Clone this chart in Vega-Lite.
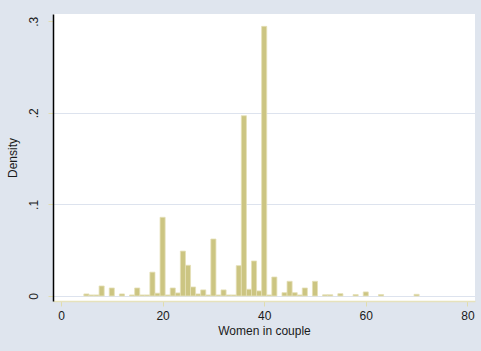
{
  "$schema": "https://vega.github.io/schema/vega-lite/v6.json",
  "width": 422,
  "height": 287,
  "autosize": "none",
  "padding": {"left": 53, "top": 14, "right": 6, "bottom": 50},
  "background": "#dfe5ee",
  "config": {
    "view": {"fill": "#ffffff", "stroke": null},
    "font": "Liberation Sans",
    "axis": {
      "labelFont": "Liberation Sans",
      "titleFont": "Liberation Sans",
      "labelFontSize": 12,
      "titleFontSize": 12,
      "titleFontWeight": "normal",
      "labelColor": "#1a1a1a",
      "titleColor": "#1a1a1a"
    }
  },
  "data": {
    "values": [
      {"lo": 4.5, "hi": 5.5, "density": 0.0022},
      {"lo": 5.5, "hi": 6.5, "density": 0.0011},
      {"lo": 6.5, "hi": 7.5, "density": 0.0011},
      {"lo": 7.5, "hi": 8.5, "density": 0.0109},
      {"lo": 9.5, "hi": 10.5, "density": 0.0087},
      {"lo": 11.5, "hi": 12.5, "density": 0.0022},
      {"lo": 13.5, "hi": 14.5, "density": 0.0011},
      {"lo": 14.5, "hi": 15.5, "density": 0.0087},
      {"lo": 15.5, "hi": 16.5, "density": 0.0011},
      {"lo": 16.5, "hi": 17.5, "density": 0.0011},
      {"lo": 17.5, "hi": 18.5, "density": 0.026},
      {"lo": 18.5, "hi": 19.5, "density": 0.003},
      {"lo": 19.5, "hi": 20.5, "density": 0.0859},
      {"lo": 20.5, "hi": 21.5, "density": 0.0011},
      {"lo": 21.5, "hi": 22.5, "density": 0.0087},
      {"lo": 22.5, "hi": 23.5, "density": 0.0033},
      {"lo": 23.5, "hi": 24.5, "density": 0.049},
      {"lo": 24.5, "hi": 25.5, "density": 0.0335},
      {"lo": 25.5, "hi": 26.5, "density": 0.0098},
      {"lo": 26.5, "hi": 27.5, "density": 0.0022},
      {"lo": 27.5, "hi": 28.5, "density": 0.0066},
      {"lo": 28.5, "hi": 29.5, "density": 0.0011},
      {"lo": 29.5, "hi": 30.5, "density": 0.0622},
      {"lo": 30.5, "hi": 31.5, "density": 0.0011},
      {"lo": 31.5, "hi": 32.5, "density": 0.0066},
      {"lo": 32.5, "hi": 33.5, "density": 0.0011},
      {"lo": 33.5, "hi": 34.5, "density": 0.0011},
      {"lo": 34.5, "hi": 35.5, "density": 0.0331},
      {"lo": 35.5, "hi": 36.5, "density": 0.1968},
      {"lo": 36.5, "hi": 37.5, "density": 0.0073},
      {"lo": 37.5, "hi": 38.5, "density": 0.0382},
      {"lo": 38.5, "hi": 39.5, "density": 0.0055},
      {"lo": 39.5, "hi": 40.5, "density": 0.2944},
      {"lo": 40.5, "hi": 41.5, "density": 0.0011},
      {"lo": 41.5, "hi": 42.5, "density": 0.0207},
      {"lo": 43.5, "hi": 44.5, "density": 0.0036},
      {"lo": 44.5, "hi": 45.5, "density": 0.016},
      {"lo": 45.5, "hi": 46.5, "density": 0.0036},
      {"lo": 46.5, "hi": 47.5, "density": 0.0011},
      {"lo": 47.5, "hi": 48.5, "density": 0.0087},
      {"lo": 49.5, "hi": 50.5, "density": 0.016},
      {"lo": 51.5, "hi": 52.5, "density": 0.0013},
      {"lo": 52.5, "hi": 53.5, "density": 0.0013},
      {"lo": 54.5, "hi": 55.5, "density": 0.0025},
      {"lo": 57.5, "hi": 58.5, "density": 0.0015},
      {"lo": 59.5, "hi": 60.5, "density": 0.0044},
      {"lo": 62.5, "hi": 63.5, "density": 0.0015},
      {"lo": 69.5, "hi": 70.5, "density": 0.0018}
    ]
  },
  "mark": {
    "type": "bar",
    "fill": "#ccc582",
    "stroke": "#e4dfb6",
    "strokeWidth": 0.8
  },
  "encoding": {
    "x": {
      "field": "lo",
      "type": "quantitative",
      "scale": {"domain": [-1.575, 81.5], "nice": false, "zero": false},
      "axis": {
        "title": "Women in couple",
        "values": [0, 20, 40, 60, 80],
        "format": "d",
        "grid": false,
        "domainColor": "#e6e2bc",
        "domainWidth": 1.5,
        "tickColor": "#e0dcae",
        "tickSize": 5,
        "labelPadding": 4,
        "titlePadding": 4
      }
    },
    "x2": {"field": "hi"},
    "y": {
      "field": "density",
      "type": "quantitative",
      "scale": {"domain": [-0.0055, 0.3079], "nice": false, "zero": false},
      "axis": {
        "title": "Density",
        "values": [0, 0.1, 0.2, 0.3],
        "labelExpr": "datum.value == 0 ? '0' : replace(format(datum.value, '.1f'), '0.', '.')",
        "labelAngle": 270,
        "labelAlign": "center",
        "labelBaseline": "bottom",
        "labelPadding": 8,
        "grid": true,
        "gridColor": "#dde3ee",
        "gridWidth": 1,
        "gridOpacity": {"condition": {"test": "datum.value > 0.25", "value": 0}, "value": 1},
        "domainColor": "#000000",
        "domainWidth": 1.5,
        "tickColor": "#e0dcae",
        "tickSize": 5,
        "titlePadding": 8
      }
    },
    "y2": {"datum": 0}
  }
}
